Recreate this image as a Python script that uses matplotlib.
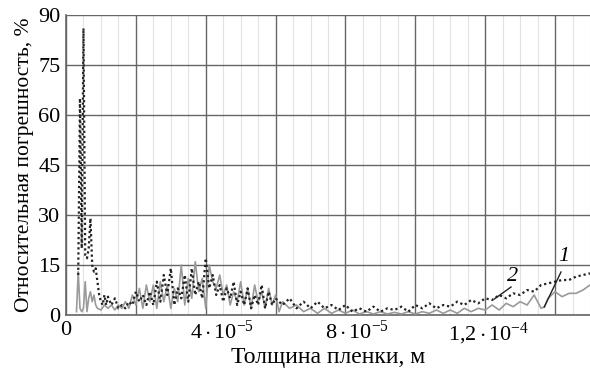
import matplotlib
matplotlib.use("Agg")
import matplotlib.pyplot as plt
from matplotlib.ticker import MultipleLocator, FixedLocator, FixedFormatter
from matplotlib.transforms import ScaledTranslation

# thickness in units of 1e-5 m
x2 = [0.35, 0.40, 0.45, 0.50, 0.55, 0.60, 0.65, 0.70, 0.75, 0.80, 0.85, 0.90, 0.95, 1.0, 1.05, 1.1, 1.15, 1.2,
      1.3, 1.4, 1.5, 1.6, 1.7, 1.8, 1.9, 2.0, 2.1, 2.2, 2.3, 2.4, 2.5, 2.6, 2.7, 2.8, 2.9, 3.0, 3.1, 3.2, 3.3,
      3.4, 3.5, 3.6, 3.7, 3.8, 3.9, 4.0, 4.1, 4.2, 4.3, 4.4, 4.5, 4.6, 4.7, 4.8, 4.9, 5.0, 5.1, 5.2, 5.3, 5.4,
      5.5, 5.6, 5.7, 5.8, 5.9, 6.0, 6.2, 6.4, 6.6, 6.8, 7.0, 7.2, 7.4, 7.6, 7.8, 8.0, 8.2, 8.4, 8.6, 8.8, 9.0,
      9.2, 9.4, 9.6, 9.8, 10.0, 10.2, 10.4, 10.6, 10.8, 11.0, 11.2, 11.4, 11.6, 11.8, 12.0, 12.2, 12.4, 12.6,
      12.8, 13.0, 13.2, 13.4, 13.6, 13.8, 14.0, 14.2, 14.4, 14.6, 14.8, 15.0]
err2 = [12, 65, 20, 86, 18, 17, 20, 29, 15, 13, 14, 10, 6, 4, 3, 6, 3, 5.5,
        3, 5, 2, 3, 2, 4, 3, 7, 4, 6, 3, 7, 3, 10, 4, 12, 6, 14, 3, 8, 5,
        12, 4, 14, 6, 10, 5, 17, 8, 12, 6, 9, 4, 8, 5, 10, 3, 7, 3, 8, 2, 6,
        3, 9, 2, 7, 3, 5, 3, 5, 2, 4, 2, 4, 2, 3, 1.5, 3, 1, 2, 1, 2.5, 1,
        2, 1.5, 2.5, 1, 3, 2, 3.5, 2, 3, 2.5, 4, 3, 4.5, 3.5, 5, 4.5, 6, 5,
        6.5, 6, 7.5, 7, 9, 9.5, 10, 10.5, 10.5, 11.5, 12, 12.5]

x1 = [0.30, 0.35, 0.40, 0.45, 0.50, 0.55, 0.60, 0.65, 0.70, 0.75, 0.80, 0.85, 0.90, 1.0, 1.1, 1.2, 1.3, 1.4,
      1.5, 1.6, 1.7, 1.8, 1.9, 2.0, 2.1, 2.2, 2.3, 2.4, 2.5, 2.6, 2.7, 2.8, 2.9, 3.0, 3.1, 3.2, 3.3, 3.4, 3.5,
      3.6, 3.7, 3.8, 3.9, 4.0, 4.1, 4.2, 4.3, 4.4, 4.5, 4.6, 4.7, 4.8, 4.9, 5.0, 5.1, 5.2, 5.3, 5.4, 5.5, 5.6,
      5.7, 5.8, 5.9, 6.0, 6.1, 6.2, 6.4, 6.6, 6.8, 7.0, 7.2, 7.4, 7.6, 7.8, 8.0, 8.2, 8.4, 8.6, 8.8, 9.0, 9.2,
      9.4, 9.6, 9.8, 10.0, 10.2, 10.4, 10.6, 10.8, 11.0, 11.2, 11.4, 11.6, 11.8, 12.0, 12.2, 12.4, 12.6, 12.8,
      13.0, 13.2, 13.4, 13.6, 13.7, 13.8, 14.0, 14.2, 14.4, 14.6, 14.8, 15.0]
err1 = [1, 13, 2, 1, 2, 10, 1, 5, 7, 4, 6, 3, 2, 1.5, 3, 2, 3, 1.5,
        3, 2, 4, 2, 6, 3, 8, 2, 9, 4, 9, 2, 10, 4, 9, 2, 8, 4, 15, 3, 11,
        5, 16, 7, 11, 2, 15, 10, 8, 12, 6, 9, 3, 7, 4, 10, 3, 8, 2, 9, 4, 7,
        2, 8, 3, 6, 1, 4, 2, 3, 1, 2, 0.5, 2, 0.5, 1.5, 0.5, 1.5, 0.3, 1, 0.3, 1, 0.3,
        0.8, 0.3, 1, 0.3, 1, 0.5, 1.5, 0.5, 1.5, 0.5, 2, 1, 2, 1.5, 3, 1.5, 3.5, 2.5,
        4, 3, 6, 2, 2.5, 5, 7, 5.5, 6.5, 6.5, 7.5, 9]

xticks = [0, 4, 8, 12]
xticklabels = ["0", r"$4\cdot10^{-5}$", r"$8\cdot10^{-5}$", r"$1{,}2\cdot10^{-4}$"]
yticks = [0, 15, 30, 45, 60, 75, 90]

plt.rcParams['font.family'] = ['Liberation Serif', 'DejaVu Serif']
plt.rcParams['mathtext.fontset'] = 'custom'
plt.rcParams['mathtext.rm'] = 'Liberation Serif'
plt.rcParams['mathtext.it'] = 'Liberation Serif:italic'

fig = plt.figure(figsize=(5.9, 3.69), dpi=100)
ax = fig.add_axes([66/590, 1 - 315/369, 1 - 66/590, 300/369])

ax.plot(x1, err1, color='#9a9a9a', lw=1.2, zorder=3)
ax.plot(x2, err2, color='#222222', lw=1.6, linestyle=(0, (1, 1.3)), zorder=4)

ax.set_xlim(0, 15)
ax.set_ylim(0, 90)
ax.xaxis.set_major_locator(FixedLocator(xticks))
ax.xaxis.set_major_formatter(FixedFormatter(xticklabels))
ax.xaxis.set_minor_locator(MultipleLocator(0.5))
ax.yaxis.set_major_locator(FixedLocator(yticks))

# grid: major vertical every 2e-5, minor every 5e-6, horizontal every 15
for xv in [0, 2, 4, 6, 8, 10, 12, 14]:
    ax.axvline(xv, color='#666666', lw=1.0, zorder=1)
for k in range(31):
    xv = k * 0.5
    if k % 4 != 0:
        ax.axvline(xv, color='#e2e2e2', lw=0.8, zorder=0)
ax.grid(axis='y', color='#666666', lw=1.0, zorder=1)

ax.tick_params(axis='both', which='both', length=0, labelsize=16, pad=4)
for s in ['top', 'right']:
    ax.spines[s].set_visible(False)
for s in ['left', 'bottom']:
    ax.spines[s].set_color('#666666')
    ax.spines[s].set_linewidth(1.2)

# small horizontal shifts of x tick labels (pixels) as in the reference
fig.canvas.draw()
for lab, dx in zip(ax.get_xticklabels(), [0, 16, 12, 3]):
    lab.set_transform(lab.get_transform() + ScaledTranslation(dx / 100, 0, fig.dpi_scale_trans))

ax.set_xlabel("Толщина пленки, м", fontsize=17, labelpad=0)
ax.set_ylabel("Относительная погрешность, %", fontsize=15.5, labelpad=3)

ax.plot([12.26, 12.74], [4.8, 8.4], color='#222222', lw=1.0, zorder=5)
ax.text(12.77, 11.6, "2", fontsize=16, style='italic', ha='center', va='center', zorder=6)
ax.plot([13.69, 14.17], [2.4, 12.9], color='#222222', lw=1.0, zorder=5)
ax.text(14.26, 17.5, "1", fontsize=16, style='italic', ha='center', va='center', zorder=6)

fig.savefig("out.png", dpi=100)
